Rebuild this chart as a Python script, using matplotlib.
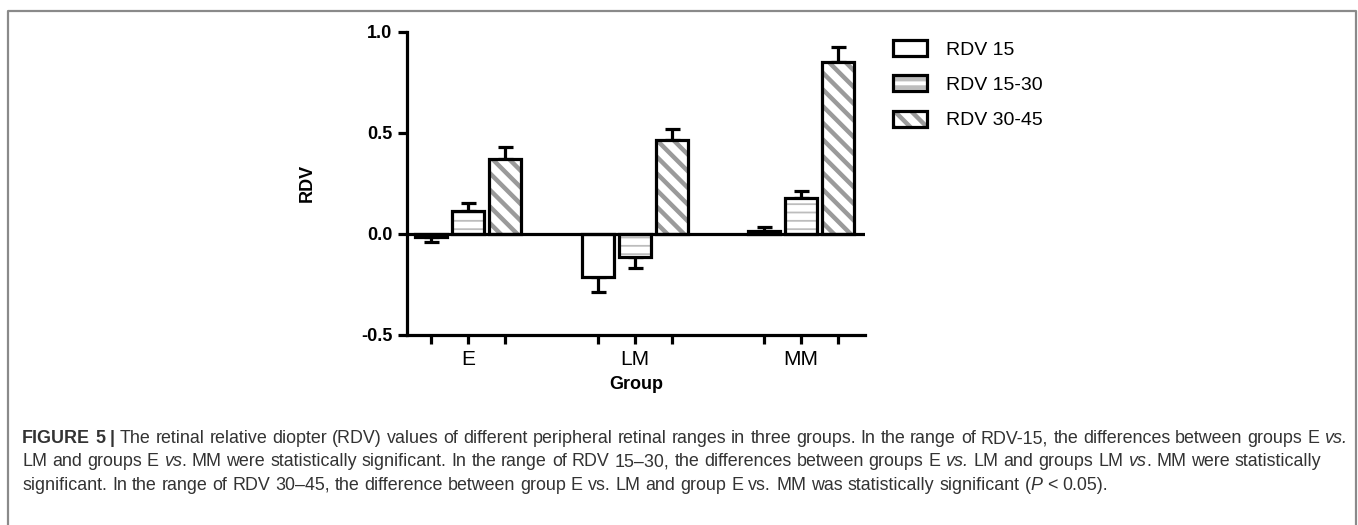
import numpy as np
import matplotlib
matplotlib.use("Agg")
import matplotlib.pyplot as plt
from matplotlib.patches import Patch
from matplotlib.legend_handler import HandlerTuple
from matplotlib.lines import Line2D
from matplotlib import font_manager

# data
groups = ["E", "LM", "MM"]
series = ["RDV 15", "RDV 15-30", "RDV 30-45"]
rdv15 = [-0.013, -0.215, 0.016]
rdv15_30 = [0.115, -0.112, 0.177]
rdv30_45 = [0.370, 0.462, 0.848]
err15 = [0.025, 0.072, 0.020]
err15_30 = [0.037, 0.055, 0.037]
err30_45 = [0.058, 0.056, 0.076]
yticks = [-0.5, 0.0, 0.5, 1.0]
ytick_labels = ["-0.5", "0.0", "0.5", "1.0"]

caption_lines = [
    [("FIGURE 5 |", "bold"),
     (" The retinal relative diopter (RDV) values of different peripheral retinal ranges in three groups. "
      "In the range of RDV-15, the differences between groups E", "normal"),
     (" vs.", "italic")],
    [("LM and groups E ", "normal"), ("vs", "italic"),
     (". MM were statistically significant. In the range of RDV 15\u201330, the differences between groups E ", "normal"),
     ("vs.", "italic"), (" LM and groups LM ", "normal"), ("vs", "italic"),
     (". MM were statistically", "normal")],
    [("significant. In the range of RDV 30\u201345, the difference between group E vs. LM and group E vs. MM "
      "was statistically significant (", "normal"), ("P", "italic"), (" < 0.05).", "normal")],
]

W, H = 1358, 525
plt.rcParams["font.family"] = ["Liberation Sans", "DejaVu Sans"]
plt.rcParams["hatch.linewidth"] = 3.0

fig = plt.figure(figsize=(W / 100, H / 100), dpi=100)
ax = fig.add_axes([407 / W, 1 - 335 / H, (865 - 407) / W, (335 - 31.7) / H])

x = np.arange(len(groups))
offsets = [-0.222, 0.0, 0.222]
width = 0.192
styles = [
    dict(hatch="", hcol="white", hlw=1.0),
    dict(hatch="--", hcol="#bdbdbd", hlw=1.3),
    dict(hatch="\\\\", hcol="#9a9a9a", hlw=3.2),
]
edge_lw = 2.3

handles = []
for vals, errs, off, st in zip([rdv15, rdv15_30, rdv30_45],
                               [err15, err15_30, err30_45], offsets, styles):
    pos = x + off
    plt.rcParams["hatch.linewidth"] = st["hlw"]
    hb = ax.bar(pos, vals, width, color="white", edgecolor=st["hcol"],
                hatch=st["hatch"], linewidth=0, zorder=2)
    for p in hb:
        if hasattr(p, "set_hatch_linewidth"):
            p.set_hatch_linewidth(st["hlw"])
    ax.bar(pos, vals, width, fill=False, edgecolor="black",
           linewidth=edge_lw, zorder=3)
    lower = [e if v < 0 else 0 for v, e in zip(vals, errs)]
    upper = [e if v >= 0 else 0 for v, e in zip(vals, errs)]
    ax.errorbar(pos, vals, yerr=[lower, upper], fmt="none", ecolor="black",
                elinewidth=edge_lw, capsize=5.4, capthick=edge_lw, zorder=1)
    hp = Patch(facecolor="white", edgecolor=st["hcol"], hatch=st["hatch"], linewidth=0)
    if hasattr(hp, "set_hatch_linewidth"):
        hp.set_hatch_linewidth(st["hlw"])
    handles.append((hp, Patch(fill=False, edgecolor="black", linewidth=edge_lw)))

ax.axhline(0, color="black", linewidth=edge_lw, zorder=4)

ax.set_xlim(-0.367, 2.384)
ax.set_ylim(-0.5, 1.0)
for s in ["top", "right"]:
    ax.spines[s].set_visible(False)
for s in ["left", "bottom"]:
    ax.spines[s].set_linewidth(edge_lw)

ax.set_yticks(yticks)
ax.set_yticklabels(ytick_labels, fontsize=13, fontweight="bold")
ax.tick_params(axis="y", length=6.5, width=edge_lw, pad=4)

# one tick per bar, group names on minor ticks at the group centres
ax.xaxis.remove_overlapping_locs = False
bar_pos = np.sort(np.concatenate([x + o for o in offsets]))
ax.set_xticks(bar_pos)
ax.set_xticklabels([])
ax.tick_params(axis="x", which="major", length=6.5, width=edge_lw)
ax.set_xticks(x, minor=True)
ax.set_xticklabels(groups, minor=True, fontsize=15)
ax.tick_params(axis="x", which="minor", length=0, pad=11)

ax.set_xlabel("Group", fontsize=13, fontweight="bold")
ax.xaxis.set_label_coords(0.5, -0.135)
ax.set_ylabel("RDV", fontsize=13, fontweight="bold")
ax.yaxis.set_label_coords(-0.199, 0.5)

leg = ax.legend(handles, series, handler_map={tuple: HandlerTuple(ndivide=1)},
                loc="upper left", bbox_to_anchor=(893 / W, 1 - 40 / H),
                bbox_transform=fig.transFigure, frameon=False, fontsize=14,
                handlelength=1.75, handleheight=0.9, handletextpad=1.0,
                labelspacing=0.85, borderpad=0, borderaxespad=0)

# outer frame of the figure panel
frame_x = [7.5 / W, 7.5 / W, 1355.5 / W, 1355.5 / W]
frame_y = [0.0, 1 - 11 / H, 1 - 11 / H, 0.0]
fig.add_artist(Line2D(frame_x, frame_y, transform=fig.transFigure,
                      color="#8a8a8a", linewidth=1.6))

# caption
cap_family = "Liberation Sans Narrow"
try:
    font_manager.findfont(cap_family, fallback_to_default=False)
except Exception:
    cap_family = "Liberation Sans"
cap_family = [cap_family, "DejaVu Sans"]
renderer = fig.canvas.get_renderer()


def tokenize(runs):
    words = [[]]
    for text, style in runs:
        parts = text.split(" ")
        for i, p in enumerate(parts):
            if i > 0:
                words.append([])
            if p:
                words[-1].append((p, style))
    return [w for w in words if w]


def text_props(style, size):
    return dict(fontsize=size, family=cap_family, color="#333333",
                fontweight="bold" if style == "bold" else "normal",
                fontstyle="italic" if style == "italic" else "normal")


def measure(s, style, size):
    t = fig.text(0, 0, s, **text_props(style, size))
    w = t.get_window_extent(renderer).width
    t.remove()
    return w


def line_width(runs, size):
    sp = measure("x x", "normal", size) - measure("xx", "normal", size)
    words = tokenize(runs)
    total = sum(measure(s, st, size) for w in words for s, st in w)
    return total + sp * (len(words) - 1)


def draw_line(runs, x0, y0, size):
    sp = measure("x x", "normal", size) - measure("xx", "normal", size)
    xp = x0
    for w in tokenize(runs):
        for s, st in w:
            fig.text(xp / W, 1 - y0 / H, s, ha="left", va="baseline",
                     **text_props(st, size))
            xp += measure(s, st, size)
        xp += sp


cap_size = 12.0 * (1345 - 22) / line_width(caption_lines[0], 12.0)
for i, runs in enumerate(caption_lines):
    draw_line(runs, 22, 443 + 23.5 * i, cap_size)

fig.savefig("out.png", dpi=100)
